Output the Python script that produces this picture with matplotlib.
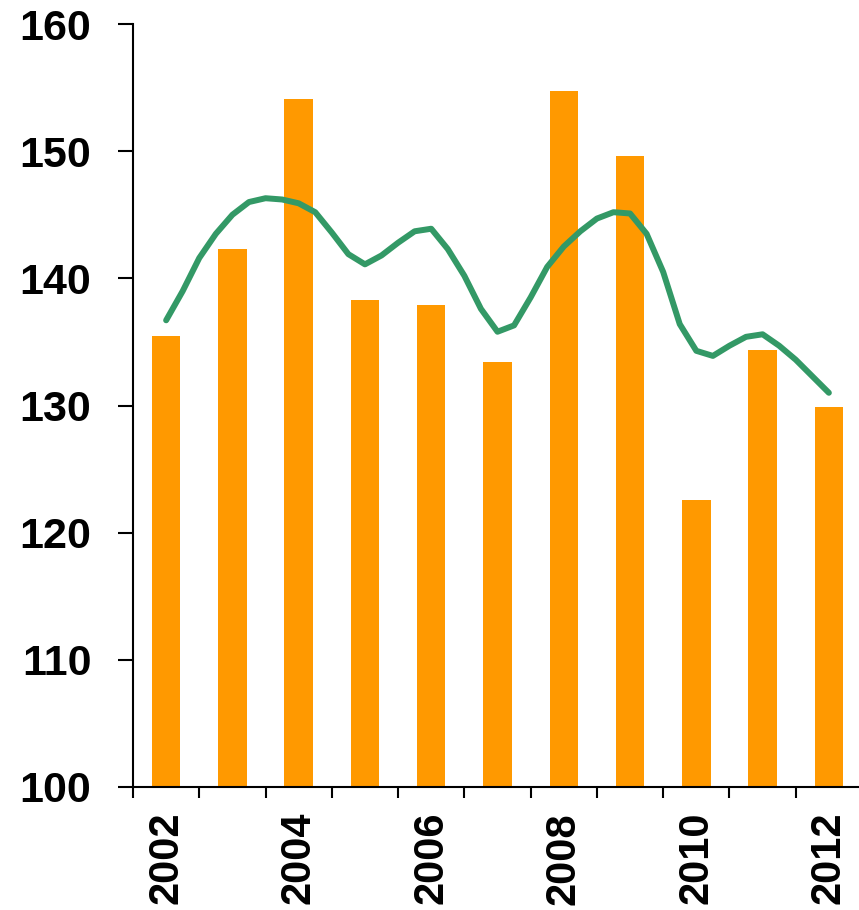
"""Annual bars with a smoothed quarterly trend line, 2002-2012."""

import matplotlib

matplotlib.use("Agg")

import matplotlib.pyplot as plt
import numpy as np

years = [2002, 2003, 2004, 2005, 2006, 2007, 2008, 2009, 2010, 2011, 2012]
annual_values = [135.5, 142.3, 154.1, 138.3, 137.9, 133.4, 154.7, 149.6, 122.6, 134.4, 129.9]

# smoothed trend, one reading per quarter from 2002 to 2012
trend_values = [
    136.7, 139.0, 141.6, 143.5, 145.0, 146.0, 146.3, 146.2, 145.9, 145.2,
    143.6, 141.9, 141.1, 141.8, 142.8, 143.7, 143.9, 142.3, 140.2, 137.6,
    135.8, 136.3, 138.5, 140.9, 142.5, 143.7, 144.7, 145.2, 145.1, 143.5,
    140.5, 136.4, 134.3, 133.9, 134.7, 135.4, 135.6, 134.7, 133.6, 132.3,
    131.0,
]
trend_step = 0.25

y_ticks = [100, 110, 120, 130, 140, 150, 160]

BAR_COLOR = "#FF9900"
LINE_COLOR = "#339966"

plt.rcParams["font.family"] = ["Liberation Sans", "DejaVu Sans"]
plt.rcParams["font.weight"] = "bold"

fig = plt.figure(figsize=(8.59, 9.10), dpi=100)
ax = fig.add_axes([133 / 859, 123 / 910, 729 / 859, 763 / 910])

x = np.arange(len(years))
ax.bar(x, np.array(annual_values) - 100, bottom=100, width=0.43, color=BAR_COLOR, zorder=2)

trend_x = np.arange(len(trend_values)) * trend_step
ax.plot(trend_x, trend_values, color=LINE_COLOR, linewidth=4.3,
        solid_capstyle="round", solid_joinstyle="round", zorder=3)

ax.set_xlim(-0.5, len(years) - 0.5)
ax.set_ylim(100, 160)

ax.set_yticks(y_ticks)
ax.set_yticklabels([str(v) for v in y_ticks], fontsize=31, fontweight="bold")
ax.tick_params(axis="y", length=11, width=1.5, pad=19)

# labels for even years at bar centres, tick marks at category boundaries
ax.set_xticks(x)
ax.set_xticklabels([str(y) if y % 2 == 0 else "" for y in years],
                   rotation=90, fontsize=30, fontweight="bold")
ax.tick_params(axis="x", which="major", length=0, pad=18)
ax.set_xticks(np.arange(len(years) + 1) - 0.5, minor=True)
ax.tick_params(axis="x", which="minor", length=8, width=1.5)

for side in ("top", "right"):
    ax.spines[side].set_visible(False)
for side in ("left", "bottom"):
    ax.spines[side].set_linewidth(1.5)

fig.savefig("out.png", dpi=100)
plt.close(fig)
